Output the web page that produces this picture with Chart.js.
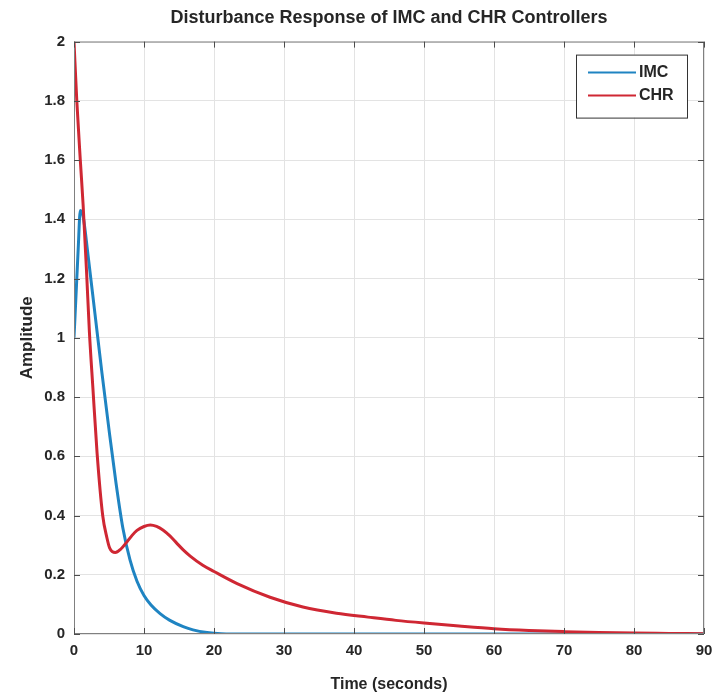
<!DOCTYPE html>
<html>
<head>
<meta charset="utf-8">
<title>Disturbance Response of IMC and CHR Controllers</title>
<script src="https://cdn.jsdelivr.net/npm/chart.js@4.4.1/dist/chart.umd.min.js"></script>
<style>
  body { margin: 0; background: #fff; }
</style>
</head>
<body>
<canvas id="resp" width="725" height="694"></canvas>
<script>
// IMC controller response
var imcTime = [0, 0.3, 0.6, 0.9, 1.3, 2, 3, 4, 5, 6, 7, 8, 9, 10, 11, 12.3, 13.7, 15.6, 17, 19, 21, 25, 30, 40, 50, 60, 70, 80, 90];
var imcAmp = [1.0, 1.15, 1.3, 1.43, 1.41, 1.28, 1.08, 0.88, 0.69, 0.51, 0.355, 0.25, 0.178, 0.13, 0.098, 0.069, 0.046, 0.025, 0.014, 0.005, 0.001, 0, 0, 0, 0, 0, 0, 0, 0];

// CHR controller response
var chrTime = [0, 0.4, 0.9, 1.3, 1.8, 2.2, 2.7, 3.3, 4.1, 4.7, 5.1, 5.9, 6.7, 7.6, 8.3, 9, 10, 10.9, 11.8, 12.7, 13.7, 14.7, 15.6, 16.6, 18.4, 20, 23.3, 28, 32.7, 37.5, 42, 46, 50, 55, 60, 65, 70, 75, 80, 85, 90];
var chrAmp = [2.0, 1.8, 1.6, 1.45, 1.22, 1.02, 0.83, 0.61, 0.4, 0.325, 0.29, 0.275, 0.287, 0.312, 0.333, 0.35, 0.363, 0.368, 0.363, 0.351, 0.331, 0.306, 0.284, 0.263, 0.232, 0.211, 0.17, 0.124, 0.091, 0.07, 0.057, 0.046, 0.037, 0.027, 0.018, 0.012, 0.008, 0.005, 0.003, 0.002, 0.001];

var seriesNames = ['IMC', 'CHR'];
var xTicks = [0, 10, 20, 30, 40, 50, 60, 70, 80, 90];
var yTicks = [0, 0.2, 0.4, 0.6, 0.8, 1, 1.2, 1.4, 1.6, 1.8, 2];

var blue = '#1f84c2';
var red = '#cf2733';
var fontFam = '"Liberation Sans", Arial, sans-serif';

function toPoints(xs, ys) {
    var pts = [];
    for (var i = 0; i < xs.length; i++) {
        pts.push({x: xs[i], y: ys[i]});
    }
    return pts;
}

// matlab style box, inner tick marks and legend
var matlabBox = {
    id: 'matlabBox',
    afterDatasetsDraw: function(chart) {
        var ctx = chart.ctx;
        var a = chart.chartArea;
        var xs = chart.scales.x, ys = chart.scales.y;
        ctx.save();
        ctx.strokeStyle = '#808080';
        ctx.lineWidth = 1;
        ctx.strokeRect(a.left + 0.5, a.top + 0.5, a.right - a.left - 1, a.bottom - a.top - 1);
        ctx.strokeStyle = '#4d4d4d';
        ctx.beginPath();
        xTicks.forEach(function(t) {
            var px = Math.round(xs.getPixelForValue(t)) + 0.5;
            ctx.moveTo(px, a.top); ctx.lineTo(px, a.top + 6);
            ctx.moveTo(px, a.bottom); ctx.lineTo(px, a.bottom - 6);
        });
        yTicks.forEach(function(t) {
            var py = Math.round(ys.getPixelForValue(t)) + 0.5;
            ctx.moveTo(a.left, py); ctx.lineTo(a.left + 6, py);
            ctx.moveTo(a.right, py); ctx.lineTo(a.right - 6, py);
        });
        ctx.stroke();

        // legend
        var lx = a.right - 128, ly = a.top + 13, lw = 111, lh = 63;
        ctx.fillStyle = '#fff';
        ctx.fillRect(lx, ly, lw, lh);
        ctx.strokeStyle = '#333';
        ctx.strokeRect(lx + 0.5, ly + 0.5, lw, lh);
        ctx.font = 'bold 16px ' + fontFam;
        ctx.textBaseline = 'middle';
        ctx.textAlign = 'left';
        chart.data.datasets.forEach(function(ds, i) {
            var yy = ly + 18 + i * 23;
            ctx.strokeStyle = ds.borderColor;
            ctx.lineWidth = 2;
            ctx.beginPath();
            ctx.moveTo(lx + 12, yy); ctx.lineTo(lx + 60, yy);
            ctx.stroke();
            ctx.fillStyle = '#262626';
            ctx.fillText(ds.label, lx + 63, yy);
        });
        ctx.restore();
    }
};

var ctx = document.getElementById('resp').getContext('2d');
var chart = new Chart(ctx, {
    type: 'line',
    data: {
        datasets: [{
            label: seriesNames[0],
            data: toPoints(imcTime, imcAmp),
            borderColor: blue,
            borderWidth: 3,
            pointRadius: 0,
            cubicInterpolationMode: 'monotone',
            fill: false,
            order: 2
        }, {
            label: seriesNames[1],
            data: toPoints(chrTime, chrAmp),
            borderColor: red,
            borderWidth: 3,
            pointRadius: 0,
            cubicInterpolationMode: 'monotone',
            fill: false,
            order: 1
        }]
    },
    options: {
        responsive: false,
        animation: false,
        devicePixelRatio: 1,
        layout: { padding: { left: 0, right: 21, top: 0, bottom: 0 } },
        plugins: {
            legend: { display: false },
            tooltip: { enabled: false },
            title: {
                display: true,
                fullSize: false,
                text: 'Disturbance Response of IMC and CHR Controllers',
                color: '#262626',
                font: { family: fontFam, size: 18, weight: 'bold' },
                padding: { top: 7, bottom: 13 }
            }
        },
        scales: {
            x: {
                type: 'linear',
                min: 0,
                max: 90,
                afterFit: function(s) { s.height = 60; },
                afterBuildTicks: function(s) { s.ticks = xTicks.map(function(v) { return {value: v}; }); },
                grid: { color: '#e3e3e3', drawTicks: false },
                border: { display: false },
                ticks: {
                    padding: 8,
                    color: '#262626',
                    font: { family: fontFam, size: 15, weight: 'bold' }
                },
                title: {
                    display: true,
                    text: 'Time (seconds)',
                    color: '#262626',
                    font: { family: fontFam, size: 16, weight: 'bold' },
                    padding: { top: 0, bottom: 0 }
                }
            },
            y: {
                type: 'linear',
                min: 0,
                max: 2,
                afterFit: function(s) { s.width = 74; },
                afterBuildTicks: function(s) { s.ticks = yTicks.map(function(v) { return {value: v}; }); },
                grid: { color: '#e3e3e3', drawTicks: false },
                border: { display: false },
                ticks: {
                    padding: 9,
                    color: '#262626',
                    font: { family: fontFam, size: 15, weight: 'bold' },
                    callback: function(v) { return String(+v.toFixed(1)); }
                },
                title: {
                    display: true,
                    text: 'Amplitude',
                    color: '#262626',
                    font: { family: fontFam, size: 17, weight: 'bold' },
                    padding: { top: 17, bottom: 0 }
                }
            }
        }
    },
    plugins: [matlabBox]
});
</script>
</body>
</html>
